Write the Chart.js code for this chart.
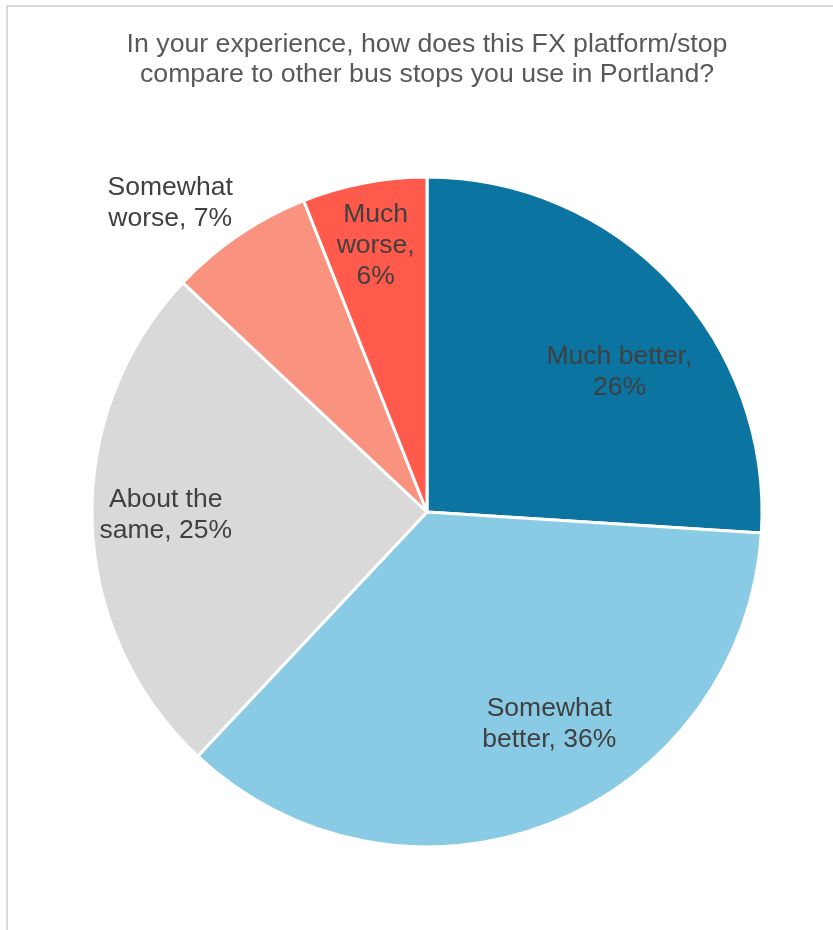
<!DOCTYPE html>
<html>
<head>
<meta charset="utf-8">
<script src="https://cdn.jsdelivr.net/npm/chart.js@4.4.1/dist/chart.umd.min.js"></script>
<style>
    html, body { margin: 0; padding: 0; background: #fff; }
    #wrap { position: relative; width: 833px; height: 930px; }
    #frame {
        position: absolute; left: 6px; top: 5px; right: -10px; bottom: -10px;
        border-top: 2px solid #d9d9d9; border-left: 2px solid #d9d9d9;
    }
    #chart { position: absolute; left: 0; top: 0; }
</style>
</head>
<body>
<div id="wrap">
    <div id="frame"></div>
    <canvas id="chart" width="833" height="930"></canvas>
</div>
<script>
const titleLines = [
    'In your experience, how does this FX platform/stop',
    'compare to other bus stops you use in Portland?'
];
const categories = ['Much better', 'Somewhat better', 'About the same', 'Somewhat worse', 'Much worse'];
const percents = [26, 36, 25, 7, 6];
const sliceColors = ['#0b74a1', '#89cae4', '#d9d9d9', '#f9927f', '#ff5a4b'];

// where each label sits: angle (deg from 12 o'clock, clockwise), distance as fraction of radius, wrap width
const labelPlacement = [
    { a: 54, r: 0.71, w: 152 },
    { a: 150, r: 0.73, w: 152 },
    { a: 269.3, r: 0.78, w: 152 },
    { a: 320.3, r: 1.2, w: 152 },
    { a: 349.1, r: 0.81, w: 90 }
];

function wrapText(ctx, text, maxW) {
    const words = text.split(' ');
    const lines = [];
    let cur = '';
    words.forEach(w => {
        const test = cur ? cur + ' ' + w : w;
        if (cur && ctx.measureText(test).width > maxW) {
            lines.push(cur);
            cur = w;
        } else {
            cur = test;
        }
    });
    if (cur) lines.push(cur);
    return lines;
}

const sliceLabels = {
    id: 'sliceLabels',
    afterDatasetsDraw(chart) {
        const ctx = chart.ctx;
        const meta = chart.getDatasetMeta(0);
        ctx.save();
        ctx.font = '26.5px "Liberation Sans", Arial, sans-serif';
        ctx.fillStyle = '#404040';
        ctx.textAlign = 'center';
        ctx.textBaseline = 'middle';
        meta.data.forEach((arc, i) => {
            const p = labelPlacement[i];
            const rad = p.a * Math.PI / 180;
            const cx = arc.x + Math.sin(rad) * arc.outerRadius * p.r;
            const cy = arc.y - Math.cos(rad) * arc.outerRadius * p.r;
            const text = categories[i] + ', ' + percents[i] + '%';
            const lines = wrapText(ctx, text, p.w);
            const lh = 31;
            const y0 = cy - (lines.length - 1) * lh / 2;
            lines.forEach((ln, k) => ctx.fillText(ln, cx, y0 + k * lh));
        });
        ctx.restore();
    }
};

const ctx = document.getElementById('chart').getContext('2d');
new Chart(ctx, {
    type: 'pie',
    data: {
        labels: categories,
        datasets: [{
            data: percents,
            backgroundColor: sliceColors,
            borderColor: '#ffffff',
            borderWidth: 3,
            radius: 335,
            hoverOffset: 0
        }]
    },
    options: {
        responsive: false,
        animation: false,
        events: [],
        layout: {
            padding: { left: 21, right: 0, top: 0, bottom: 83 }
        },
        plugins: {
            legend: { display: false },
            tooltip: { enabled: false },
            title: {
                display: true,
                text: titleLines,
                color: '#595959',
                font: { family: '"Liberation Sans", Arial, sans-serif', size: 26.7, weight: 'normal', lineHeight: 30 / 26.7 },
                padding: { top: 30, bottom: 87 }
            }
        }
    },
    plugins: [sliceLabels]
});
</script>
</body>
</html>
